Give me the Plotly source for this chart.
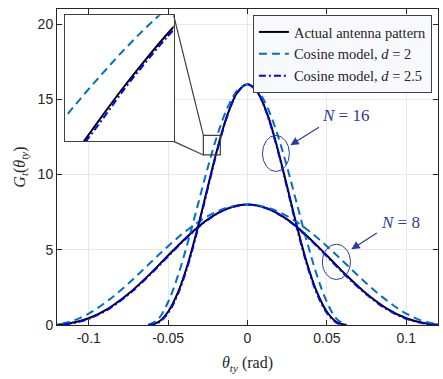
import plotly.graph_objects as go

# theta samples (rad) for the two array sizes
theta_16 = [-0.0625, -0.05625, -0.05, -0.04375, -0.0375, -0.03125, -0.025, -0.01875, -0.0125, -0.00625, 0.0,
            0.00625, 0.0125, 0.01875, 0.025, 0.03125, 0.0375, 0.04375, 0.05, 0.05625, 0.0625]
theta_8 = [-0.125, -0.1125, -0.1, -0.0875, -0.075, -0.0625, -0.05, -0.0375, -0.025, -0.0125, 0.0,
           0.0125, 0.025, 0.0375, 0.05, 0.0625, 0.075, 0.0875, 0.1, 0.1125, 0.125]

# N = 16
actual_16 = [0, 0.19, 0.88, 2.18, 4.09, 6.51, 9.18, 11.80, 14.01, 15.48, 16,
             15.48, 14.01, 11.80, 9.18, 6.51, 4.09, 2.18, 0.88, 0.19, 0]
cos2_16 = [0, 0.39, 1.53, 3.30, 5.53, 8.00, 10.47, 12.70, 14.47, 15.61, 16,
           15.61, 14.47, 12.70, 10.47, 8.00, 5.53, 3.30, 1.53, 0.39, 0]
cos25_16 = [0, 0.14, 0.80, 2.08, 3.98, 6.40, 9.08, 11.72, 13.95, 15.46, 16,
            15.46, 13.95, 11.72, 9.08, 6.40, 3.98, 2.08, 0.80, 0.14, 0]

# N = 8
actual_8 = [0, 0.10, 0.45, 1.11, 2.07, 3.28, 4.62, 5.92, 7.02, 7.74, 8,
            7.74, 7.02, 5.92, 4.62, 3.28, 2.07, 1.11, 0.45, 0.10, 0]
cos2_8 = [0, 0.20, 0.76, 1.65, 2.76, 4.00, 5.24, 6.35, 7.24, 7.80, 8,
          7.80, 7.24, 6.35, 5.24, 4.00, 2.76, 1.65, 0.76, 0.20, 0]
cos25_8 = [0, 0.08, 0.41, 1.06, 2.02, 3.22, 4.56, 5.87, 6.99, 7.73, 8,
           7.73, 6.99, 5.87, 4.56, 3.22, 2.02, 1.06, 0.41, 0.08, 0]

# finer samples of the N = 16 flank shown in the zoomed inset
theta_zoom = [-0.021875, -0.0203125, -0.01875, -0.0171875, -0.015625, -0.0140625, -0.0125]
actual_zoom = [10.52, 11.17, 11.80, 12.41, 12.98, 13.52, 14.01]
cos2_zoom = [11.63, 12.18, 12.70, 13.20, 13.66, 14.08, 14.47]
cos25_zoom = [10.46, 11.11, 11.72, 12.35, 12.92, 13.46, 13.95]

x_ticks = [-0.1, -0.05, 0, 0.05, 0.1]
y_ticks = [0, 5, 10, 15, 20]

serif = "Liberation Serif"
sans = "Liberation Sans"
ann_col = "#2b3a9c"

styles = [
    ("Actual antenna pattern", dict(color="black", width=2, dash="solid")),
    ("Cosine model, <i>d</i> = 2", dict(color="#0072BD", width=2, dash="8px,5px")),
    ("Cosine model, <i>d</i> = 2.5", dict(color="#0000FF", width=2, dash="7px,3px,2px,3px")),
]
series = [(actual_16, actual_8, actual_zoom), (cos2_16, cos2_8, cos2_zoom), (cos25_16, cos25_8, cos25_zoom)]

fig = go.Figure()
for (name, line), (y16, y8, yz) in zip(styles, series):
    for xs, ys, show in [(theta_16, y16, True), (theta_8, y8, False)]:
        fig.add_trace(go.Scatter(x=xs, y=ys, mode="lines", name=name, legendgroup=name,
                                 showlegend=show, line=dict(shape="spline", **line)))
    # zoomed inset
    fig.add_trace(go.Scatter(x=theta_zoom, y=yz, mode="lines", showlegend=False,
                             line=dict(shape="spline", **line), xaxis="x2", yaxis="y2"))

axis_common = dict(showline=True, mirror="ticks", linecolor="#262626", linewidth=1,
                   ticks="inside", ticklen=5, tickcolor="#262626",
                   showgrid=True, gridcolor="#e8e8e8", zeroline=False,
                   tickfont=dict(family=sans, size=14, color="#262626"))

fig.update_layout(
    width=443, height=379,
    margin=dict(l=57, r=5, t=9, b=54),
    plot_bgcolor="white", paper_bgcolor="white",
    xaxis=dict(range=[-0.12, 0.12], tickvals=x_ticks, ticktext=["-0.1", "-0.05", "0", "0.05", "0.1"],
               title=dict(text="<i>θ<sub>ty</sub></i> (rad)", font=dict(family=serif, size=16, color="#262626"),
                          standoff=12),
               **axis_common),
    yaxis=dict(range=[0, 21], tickvals=y_ticks,
               title=dict(text="<i>G<sub>t</sub></i>(<i>θ<sub>ty</sub></i>)", font=dict(family=serif, size=16, color="#262626"),
                          standoff=8),
               **axis_common),
    xaxis2=dict(domain=[0.020, 0.306], anchor="y2", range=[-0.0215, -0.0135],
                showline=True, mirror=True, linecolor="#404040", linewidth=1.2,
                showgrid=False, zeroline=False, showticklabels=False, ticks=""),
    yaxis2=dict(domain=[0.581, 0.980], anchor="x2", range=[11.26, 13.95],
                showline=True, mirror=True, linecolor="#404040", linewidth=1.2,
                showgrid=False, zeroline=False, showticklabels=False, ticks=""),
    legend=dict(x=0.984, y=0.981, xanchor="right", yanchor="top",
                bgcolor="#f7f9fc", bordercolor="#404040", borderwidth=1,
                font=dict(family=serif, size=14.5, color="#262626"),
                tracegroupgap=0, itemwidth=30),
    showlegend=True,
)

# white backing for the inset
fig.add_shape(type="rect", xref="x2 domain", yref="y2 domain", x0=0, x1=1, y0=0, y1=1,
              fillcolor="white", line=dict(width=0), layer="below")
# zoom rectangle and connectors
fig.add_shape(type="rect", xref="x", yref="y", x0=-0.0278, x1=-0.0171, y0=11.3, y1=12.6,
              line=dict(color="#404040", width=1.2))
fig.add_shape(type="line", xref="x", yref="y", x0=-0.0465, y0=20.58, x1=-0.0278, y1=12.6,
              line=dict(color="#404040", width=1.2))
fig.add_shape(type="line", xref="x", yref="y", x0=-0.0465, y0=12.2, x1=-0.0278, y1=11.3,
              line=dict(color="#404040", width=1.2))

# ellipses marking the N groups
fig.add_shape(type="circle", xref="x", yref="y", x0=0.0094, x1=0.0264, y0=10.2, y1=12.6,
              line=dict(color=ann_col, width=1))
fig.add_shape(type="circle", xref="x", yref="y", x0=0.0472, x1=0.0648, y0=3.02, y1=5.37,
              line=dict(color=ann_col, width=1))

for head, tail, label, pos in [((0.0270, 11.95), (0.0459, 13.2), "<i>N</i> = 16", (0.0620, 13.9)),
                                ((0.0654, 5.03), (0.0824, 6.17), "<i>N</i> = 8", (0.0965, 6.78))]:
    fig.add_annotation(x=head[0], y=head[1], ax=tail[0], ay=tail[1], axref="x", ayref="y",
                       showarrow=True, arrowhead=2, arrowsize=1.4, arrowwidth=1.2,
                       arrowcolor=ann_col, text="")
    fig.add_annotation(x=pos[0], y=pos[1], text=label, showarrow=False,
                       font=dict(family=serif, size=17, color=ann_col))

fig.write_html("out.html", config={"displayModeBar": False},
               post_script="document.body.style.margin='0';")
